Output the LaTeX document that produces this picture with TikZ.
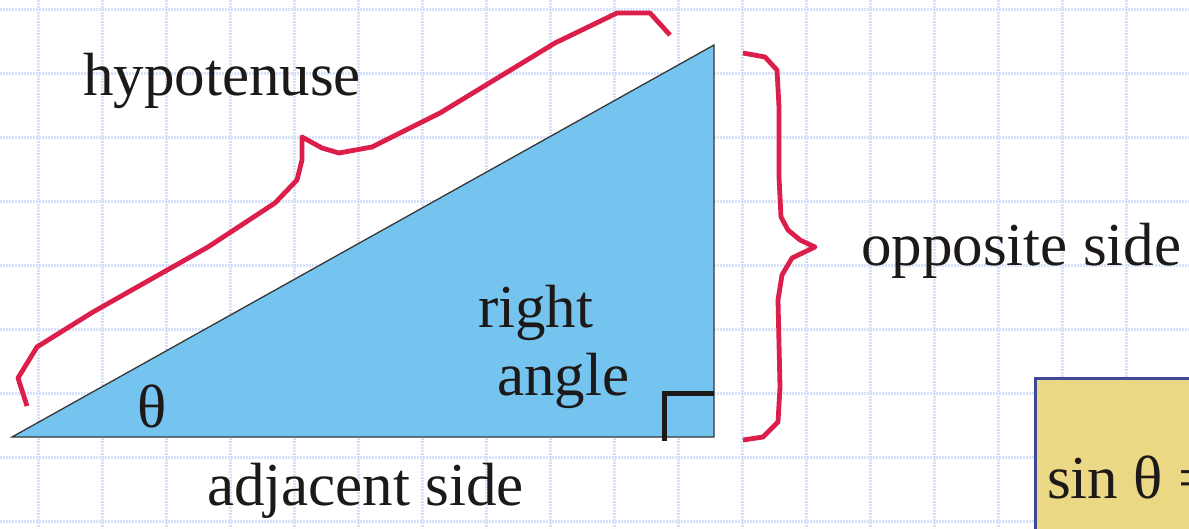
\documentclass[tikz,border=0pt]{standalone}
\usepackage{fontspec}
\setmainfont{Liberation Serif}
\definecolor{gridc}{RGB}{216,225,252}
\definecolor{tri}{RGB}{117,196,239}
\definecolor{bracec}{RGB}{220,30,75}
\definecolor{txt}{RGB}{30,25,25}
\definecolor{boxfill}{RGB}{234,216,132}
\definecolor{boxline}{RGB}{62,72,150}
\tikzset{
  gridline/.style={gridc, line width=3pt, dash pattern=on 2pt off 1pt},
  brace/.style={bracec, line width=4.8pt, line join=round},
  lbl/.style={inner sep=0pt, anchor=base west, text=txt, font=\fontsize{61}{68}\selectfont},
}
\begin{document}
\begin{tikzpicture}[x=1pt,y=-1pt]
\useasboundingbox (0,0) rectangle (1189,528);
\clip (0,0) rectangle (1189,528);
\fill[white] (0,0) rectangle (1189,528);
% grid
\foreach \gx in {38,102,...,1190} \draw[gridline] (\gx,0) -- (\gx,528);
\foreach \gy in {9,73,...,530} \draw[gridline] (0,\gy) -- (1189,\gy);
% triangle
\coordinate (A) at (12,437);
\coordinate (B) at (714,45);
\coordinate (C) at (714,437);
\filldraw[fill=tri, draw={rgb,255:red,55;green,55;blue,55}, line width=1.3pt] (A) -- (B) -- (C) -- cycle;
% right angle mark
\coordinate (R1) at (664.5,441);
\coordinate (R2) at (664.5,393);
\coordinate (R3) at (714,393);
\draw[txt, line width=5pt] (R1) -- (R2) -- (R3);
% hypotenuse brace
\draw[brace] (27,406) -- (18,378) -- (37,347) -- (93,312) -- (208,247) -- (275,203) -- (297,180) -- (302,160) -- (302,137) -- (322,148) -- (339,153) -- (372,147) -- (440,113) -- (555,43) -- (617,13) -- (650,13) -- (670,35);
% opposite brace
\draw[brace] (743,53) -- (765,57) -- (777,70) -- (779,107) -- (779,177) -- (781,217) -- (788,230) -- (800,240) -- (815,247) -- (792,258) -- (782,275) -- (778,300) -- (780,387) -- (778,422) -- (763,437) -- (743,440);
% labels
\node[lbl] (hyp) at (83,95) {hypotenuse};
\node[lbl] (opp) at (861,265) {opposite side};
\node[lbl] (adj) at (207,505) {adjacent side};
\node[lbl] (right) at (478,327) {right};
\node[lbl] (angle) at (497,395) {angle};
\node[lbl] (theta) at (137,427) {θ};
% formula box
\node[draw=boxline, fill=boxfill, line width=2.5pt, anchor=north west, minimum width=300pt, minimum height=200pt, inner sep=0pt] (box) at (1034,377) {};
\node[lbl] (sin) at (1047,498) {sin θ =};
\end{tikzpicture}
\end{document}
